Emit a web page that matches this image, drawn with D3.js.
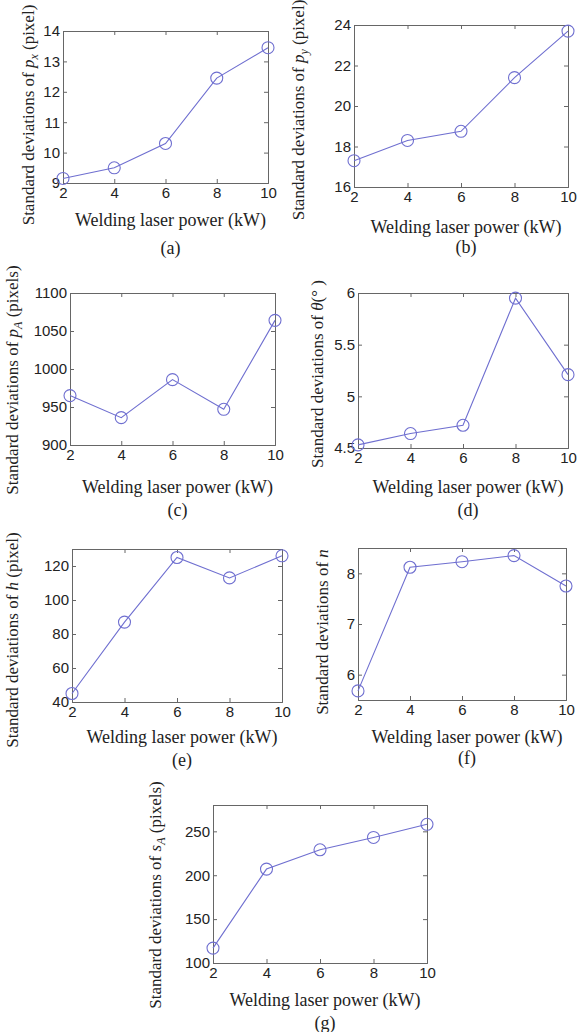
<!DOCTYPE html>
<html>
<head>
<meta charset="utf-8">
<script src="https://cdn.jsdelivr.net/npm/d3@7"></script>
<style>
  body { margin: 0; background: #fff; }
  .tick text { font-family: "Liberation Sans", Arial, sans-serif; font-size: 15px; fill: #222; }
  .lab { font-family: "Liberation Serif", "Times New Roman", serif; font-size: 18px; fill: #222; }
  .ylab { font-size: 17px; }
</style>
</head>
<body>
<div id="chart"></div>
<script>
(function () {
    var width = 585, height = 1032;

    // data
    var power = [2, 4, 6, 8, 10];
    var sdPx = [9.15, 9.5, 10.3, 12.45, 13.45];
    var sdPy = [17.3, 18.3, 18.75, 21.4, 23.7];
    var sdPA = [965, 936, 986, 947, 1064];
    var sdTheta = [4.53, 4.64, 4.72, 5.95, 5.21];
    var sdH = [45, 87, 125, 113, 126];
    var sdN = [5.68, 8.12, 8.23, 8.35, 7.75];
    var sdSA = [117, 207, 229, 243, 258];

    var yDomains = [[9, 14], [16, 24], [900, 1100], [4.5, 6], [40, 130], [5.5, 8.5], [100, 280]];
    var yTicks = [
        [9, 10, 11, 12, 13, 14],
        [16, 18, 20, 22, 24],
        [900, 950, 1000, 1050, 1100],
        [4.5, 5, 5.5, 6],
        [40, 60, 80, 100, 120],
        [6, 7, 8],
        [100, 150, 200, 250]
    ];
    var captions = ["(a)", "(b)", "(c)", "(d)", "(e)", "(f)", "(g)"];
    var xLabel = "Welding laser power (kW)";

    // y label parts: n normal, i italic, s italic subscript
    var yLabels = [
        [["Standard deviations of ", "n"], ["p", "i"], ["x", "s"], [" (pixel)", "n"]],
        [["Standard deviations of ", "n"], ["p", "i"], ["y", "s"], [" (pixel)", "n"]],
        [["Standard deviations of ", "n"], ["p", "i"], ["A", "s"], [" (pixels)", "n"]],
        [["Standard deviations of ", "n"], ["\u03b8", "i"], ["(\u00b0 )", "n"]],
        [["Standard deviations of ", "n"], ["h", "i"], [" (pixel)", "n"]],
        [["Standard deviations of ", "n"], ["n", "i"]],
        [["Standard deviations of ", "n"], ["s", "i"], ["A", "s"], [" (pixels)", "n"]]
    ];

    var series = [sdPx, sdPy, sdPA, sdTheta, sdH, sdN, sdSA];

    // layout: plot box, y label x / center y, x label and caption baselines
    var boxes = [
        { l: 63, t: 31, r: 268, b: 183, lx: 28, ly: 115, xl: 220, cap: 248 },
        { l: 354, t: 25, r: 568, b: 187, lx: 298, ly: 110, xl: 227, cap: 247 },
        { l: 70, t: 293, r: 275, b: 445, lx: 12, ly: 380, xl: 487, cap: 510 },
        { l: 358, t: 293, r: 568, b: 448, lx: 317, ly: 374, xl: 487, cap: 510 },
        { l: 72, t: 549, r: 282, b: 702, lx: 12, ly: 640, xl: 737, cap: 760 },
        { l: 358, t: 548, r: 566, b: 700, lx: 322, ly: 632, xl: 737, cap: 758 },
        { l: 213, t: 805, r: 427, b: 963, lx: 155, ly: 895, xl: 1000, cap: 1023 }
    ];

    var svg = d3.select("#chart")
        .append("svg")
        .attr("width", width)
        .attr("height", height);

    var lineColor = "#6f6fd0";

    series.forEach(function (vals, i) {
        var b = boxes[i];
        var x = d3.scaleLinear().domain([2, 10]).range([b.l, b.r]);
        var y = d3.scaleLinear().domain(yDomains[i]).range([b.b, b.t]);
        var g = svg.append("g");

        // matlab style box, inward ticks on all sides
        g.append("g").attr("transform", "translate(0," + b.b + ")")
            .call(d3.axisBottom(x).tickValues(power).tickSize(-4).tickPadding(4).tickFormat(d3.format("d")));
        g.append("g").attr("transform", "translate(" + b.l + ",0)")
            .call(d3.axisLeft(y).tickValues(yTicks[i]).tickSize(-4).tickPadding(3).tickFormat(function (d) { return d; }));
        g.append("g").attr("transform", "translate(0," + b.t + ")")
            .call(d3.axisTop(x).tickValues(power).tickSize(-4).tickFormat(""));
        g.append("g").attr("transform", "translate(" + b.r + ",0)")
            .call(d3.axisRight(y).tickValues(yTicks[i]).tickSize(-4).tickFormat(""));
        g.selectAll(".domain").attr("stroke", "#666");
        g.selectAll(".tick line").attr("stroke", "#666");

        var pts = power.map(function (p, k) { return [p, vals[k]]; });
        g.append("path")
            .datum(pts)
            .attr("fill", "none")
            .attr("stroke", lineColor)
            .attr("stroke-width", 1.1)
            .attr("d", d3.line().x(function (d) { return x(d[0]); }).y(function (d) { return y(d[1]); }));

        g.selectAll(".mk")
            .data(pts)
            .enter().append("circle")
            .attr("class", "mk")
            .attr("cx", function (d) { return x(d[0]); })
            .attr("cy", function (d) { return y(d[1]); })
            .attr("r", 6)
            .attr("fill", "none")
            .attr("stroke", lineColor)
            .attr("stroke-width", 1.1);

        // x label + caption
        g.append("text").attr("class", "lab")
            .attr("x", (b.l + b.r) / 2 + 5).attr("y", b.xl + 6)
            .attr("text-anchor", "middle")
            .text(xLabel);
        g.append("text").attr("class", "lab")
            .attr("x", (b.l + b.r) / 2 + 5).attr("y", b.cap + 6)
            .attr("text-anchor", "middle")
            .text(captions[i]);

        // y label
        var yl = g.append("text").attr("class", "lab ylab")
            .attr("transform", "translate(" + (b.lx + 6) + "," + b.ly + ") rotate(-90)")
            .attr("text-anchor", "middle");
        var prevSub = false;
        yLabels[i].forEach(function (part) {
            var t = yl.append("tspan").text(part[0]);
            if (part[1] === "i") t.attr("font-style", "italic");
            if (part[1] === "s") {
                t.attr("font-style", "italic").attr("font-size", "12px").attr("dy", "4");
                prevSub = true;
            } else if (prevSub) {
                t.attr("dy", "-4");
                prevSub = false;
            }
        });
    });
})();
</script>
</body>
</html>
